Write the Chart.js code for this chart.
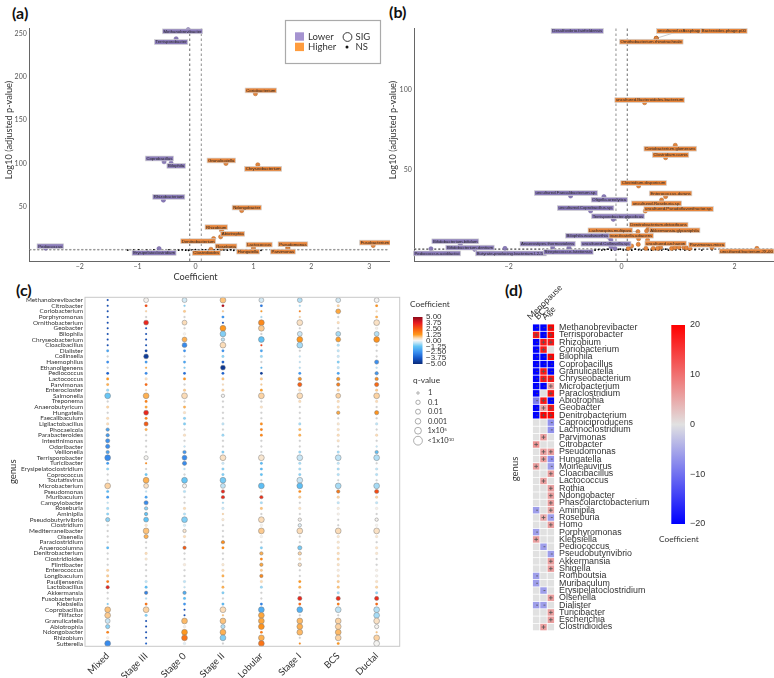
<!DOCTYPE html>
<html><head><meta charset="utf-8">
<script src="https://cdn.jsdelivr.net/npm/chart.js@4"></script>
<style>
html,body{margin:0;padding:0;background:#fff;width:774px;height:678px;overflow:hidden}
canvas{position:absolute}
.tag{position:absolute;font:bold 16px Lato,sans-serif;color:#111}
</style></head><body>
<div class="tag" style="left:12px;top:3px">(a)</div>
<div class="tag" style="left:389px;top:2px">(b)</div>
<div class="tag" style="left:16px;top:280px">(c)</div>
<div class="tag" style="left:505px;top:280px">(d)</div>
<canvas id="ca" width="390" height="285" style="left:0;top:0"></canvas>
<canvas id="cb" width="389" height="285" style="left:385px;top:0"></canvas>
<canvas id="cc" width="510" height="393" style="left:0;top:285px"></canvas>
<canvas id="cd" width="264" height="375" style="left:510px;top:270px"></canvas>
<script>
/* ---------- panel (a) ---------- */
const aNames=["Methanobrevibacter","Terrisporobacter","Coriobacterium","Coprobacillus","Bilophila","Granulicatella","Chryseobacterium","Rhizobacterium","Ndongobacter","Rhizobium","Abiotrophia","Denitrobacterium","Roseburia","Clostridioides","Lactococcus","Hungatella","Pseudomonas","Parvimonas","Fusobacterium","Pediococcus","Erysipelatoclostridium"];
const aCoef=[-.127,-.335,1.034,-.543,-.422,.525,1.075,-.555,.797,.45,.433,.312,.45,.266,1,1,1.594,1.594,3.067,-2.588,-.63];
const aLogP=[254.2,243.8,180.5,102.2,100.6,100.2,98.7,58,46,23,15.8,13.8,2.7,1.5,3.8,1.5,3.8,2.3,5.8,2.7,2.3];
const aSide=[0,0,1,0,0,1,1,0,1,1,1,1,1,1,1,1,1,1,1,0,0];
const aTagX=[-.225,-.422,1.127,-.624,-.335,.445,1.167,-.462,.884,.358,.641,.046,.526,.185,1.098,.907,1.681,1.508,3.097,-2.507,-.716];
const aTagY=[252.3,240,184.3,106,97.5,103.7,94.1,61.8,49.5,26.9,19.3,10.8,5,-2.7,6.9,-1.2,7.3,-1.2,9.2,5,-2.7];
const aNsX=[-1.17,-1.07,-.98,-.84,-.72,-.46,-.35,-.29,-.23,-.17,-.12,-.06,0,.06,.12,.17,.23,.32,.38,.43,.49,.55,.61,.66,.72,.78,.87,.95,1.04,1.13];
const aNsY=[.6,.4,.9,.5,.7,.8,.3,.6,.9,.5,.4,.8,1.1,.3,.7,.9,.5,.6,1.2,.4,.8,.5,.9,.3,.6,.7,.4,.5,.8,.3];
const aTicksX=[-2,-1,0,1,2,3], aTicksY=[50,100,150,200,250];

/* ---------- panel (b) ---------- */
const bNames=["uncultured.crAssphage","Bacteroides.phage.p00","Ornithobacterium.rhinotracheale","Desulfovibrio.fairfieldensis","uncultured.Bacteroidales.bacterium","Coriobacterium.glomerans","Clostridium.carnis","Clostridium.disporicum","Enterococcus.durans","uncultured.Roseburia.sp.","uncultured.Pseudoflavonifractor.sp.","uncultured.Faecalibacterium.sp.","Oligella.ureolytica","uncultured.Coprobacillus.sp.","Terrisporobacter.glycolicus","Denitrobacterium.detoxificans","Akkermansia.glycaniphila","Lachnospira.multipara","Granulicatella.adiacens","Bilophila.wadsworthia","Bifidobacterium.bifidum","Bifidobacterium.dentium","Anaerostipes.thermoviolens","uncultured.Collinsella.sp.","uncultured.archaeon","Parvimonas.micra","Pediococcus.acidilactici","Butyrate-producing.bacterium.L2-50","Streptococcus.lutetiensis","uncultured.bacterium.JX-00"];
const bCoef=[.614,.614,.614,-.785,.407,.95,.779,.301,.779,.708,.419,-.903,-.313,-.549,-.147,.472,.442,.289,.301,-.224,-2.855,-2.6,-1.221,-.189,.69,1.599,-3.375,-2.065,-.932,2.395];
const bLogP=[131.6,131.6,131.6,136.1,91.7,65.3,57.6,40.1,33.5,31.4,24.6,33.9,33.5,24.6,19.4,13.6,12.2,11.8,7.4,8.3,3.9,.8,2.3,2.5,2.1,1.9,1.2,1.4,1.9,1.4];
const bSide=[1,1,1,0,1,1,1,1,1,1,1,0,0,0,0,1,1,1,1,0,0,0,0,0,1,1,0,0,0,1];
const bTagX=[1.027,1.811,.525,-.785,.496,.861,.867,.389,.867,.619,1.009,-.985,-.218,-.637,-.065,.655,.938,-.201,.147,-.608,-2.944,-2.684,-1.31,-.277,.779,1.51,-3.268,-1.959,-.944,2.212];
const bTagY=[136.1,136.1,129.5,136.1,93.3,63.2,59.3,41.9,35.5,29.3,25.8,35.7,31.6,26.4,21.3,16.1,12.6,12.6,9.3,9.3,5.8,1.9,4.3,4.3,4.5,3.7,-1.7,-1.7,-.8,-.4];
const bExtraHighX=[.118,.177,.295,.46,.431,.56,.637,.885,.944,1.015,1.103,1.15,1.209];
const bExtraHighY=[1.4,2.9,3.9,6.6,1.4,1.4,1.4,1.4,1.9,2.1,2.1,1.7,1.4];
const bExtraLowX=[-.189,-.118], bExtraLowY=[6.6,1.4];
const bNsX=[-.53,-.47,-.41,-.35,-.3,-.24,-.18,-.12,-.06,-.02,.03,.08,.12,.18,.24,.3,.35,.41,.47,.53,.6,.66,.71,.78,.83,.9,.96,1.04,1.12,1.2,1.3,1.42,1.6];
const bNsY=[.5,.3,.7,.4,.6,.9,.3,.5,.8,1,.4,.6,.7,.3,.9,.5,.4,.8,.6,.3,.7,.5,.4,.9,.3,.6,.5,.7,.4,.3,.6,.4,.5];
const bTicksX=[-2,0,2], bTicksY=[50,100];

/* ---------- panel (c) ---------- */
const cGroups=["Mixed","Stage III","Stage 0","Stage II","Lobular","Stage I","BCS","Ductal"];
const cGenus=["Methanobrevibacter","Citrobacter","Coriobacterium","Porphyromonas","Ornithobacterium","Geobacter","Bilophila","Chryseobacterium","Cloacibacillus","Dialister","Collinsella","Haemophilus","Ethanoligenens","Pediococcus","Lactococcus","Parvimonas","Enterocloster","Salmonella","Treponema","Anaerobutyricum","Hungatella","Faecalibaculum","Ligilactobacillus","Phocaeicola","Parabacteroides","Intestinimonas","Odoribacter","Veillonella","Terrisporobacter","Turicibacter","Erysipelatoclostridium","Coprococcus","Toutatisvirus","Microbacterium","Pseudomonas","Muribaculum","Campylobacter","Roseburia","Aminipila","Pseudobutyrivibrio","Clostridium","Mediterraneibacter","Olsenella","Paraclostridium","Anaerocolumna","Denitrobacterium","Clostridioides","Flintibacter","Enterococcus","Longibaculum","Paulijensenia","Lactobacillus","Akkermansia","Fusobacterium","Klebsiella","Coprobacillus","Filifactor","Granulicatella","Abiotrophia","Ndongobacter","Rhizobium","Sutterella"];
const coefMixed=[-4,-4,-4,-4,-4,-4,-4,-4,-4,-2,-.3,-2.5,-.3,-3.5,1.3,1,-.8,-1.2,.3,.6,.2,.5,.5,-2,-2.2,-2.4,-2.5,-2,-2.6,-2.2,-.9,-.3,.3,.6,-1.5,-2.2,-.5,-.7,-.9,-.9,-.4,-.4,-.3,-.3,-1.5,-.3,-.3,.3,.6,.7,1.8,3.5,.4,-.3,-1,.8,.7,-.4,-.9,1.7,.1,-2.6];
const qMixed=[0,0,0,0,0,0,0,0,0,1,0,1,0,1,1,1,1,5,0,1,0,1,1,2,2,3,3,2,5,1,1,0,0,5,1,1,0,1,1,3,0,0,0,0,1,0,0,0,1,1,1,2,0,0,0,5,5,4,3,1,1,5];
const coefStage3=[.05,2.8,.6,.4,3.5,-3.8,-4,-4,-4,-4.2,-4.5,-2.2,1,-2.6,.4,2.2,.5,1,1.7,1.1,3.5,1.6,2.5,1,.2,.2,.2,.3,.03,1.5,.4,-1.2,1,.4,-.5,-2,-2.6,-.9,-1.3,-1.3,.3,.8,1,-.2,.2,.5,.3,-.2,.2,.2,-.5,-1.4,-2.8,-.6,2,.6,-1,-4,-4,-4,-4,-3.5];
const qStage3=[4,1,0,0,4,0,0,0,0,1,4,1,0,1,1,1,0,5,1,1,4,1,3,1,0,0,0,0,3,0,0,1,5,4,0,1,3,2,2,4,1,5,3,0,0,1,1,0,0,0,1,1,2,0,1,5,1,0,0,0,0,0];
const coefStage0=[-.3,-1,.7,.3,.5,.1,.05,1,-2.6,-2.4,-.3,-2,-1,-3.2,1.4,.3,.7,.5,.3,1,.4,-.9,-1,.3,.4,.3,-.5,-2.3,-2.6,-2.6,-.5,-.4,-1.2,.05,-.6,-.3,-.3,.5,-.6,-1,-.3,.3,.5,.3,2.5,.2,.4,.2,.3,-.2,-.5,-.5,-1.8,-1.4,-2.3,-4,-4,.9,.1,1.3,2,-.2];
const qStage0=[4,0,1,0,4,0,1,4,4,1,0,1,0,1,1,0,1,5,0,1,1,1,1,0,1,0,0,2,4,3,0,0,5,3,1,0,0,1,1,5,1,2,1,0,2,0,0,1,0,0,1,0,2,1,1,0,0,5,1,5,5,1];
const coefStage2=[.8,4.5,.7,-2.3,-4,1.3,-1,-.5,.5,-2.4,-.9,-3.5,-4.6,-3.5,.8,.5,.6,.02,.2,-.3,-.4,-.3,-.5,-.2,-.8,-.2,-.2,-1,.4,-.4,-.9,-1,-1.1,-.5,3.5,3.4,-.7,-.4,.6,.3,-.2,.2,.2,1.5,1.5,.2,.2,.3,.5,1,.2,1,-1,-.2,-1.5,.5,.8,.8,-.6,1,-1,-.2];
const qStage2=[5,1,0,1,0,5,5,2,5,1,1,1,4,1,1,0,1,2,0,0,0,0,1,0,1,0,0,1,5,1,1,1,5,4,2,2,0,1,0,1,0,0,0,2,1,0,0,1,1,1,0,1,1,0,1,5,0,5,3,5,5,0];
const coefLobular=[-.3,-3,1.2,-.7,1.6,.7,.03,-1.3,3,-2,-.8,-.3,-1.5,-4.5,.7,.7,1.2,.6,.4,.4,.3,.2,1.5,1.7,1.6,-.3,-.2,.2,.3,-1.5,-1.5,-1.3,-.3,-1.4,.5,3.3,-.7,.8,.3,.5,.05,.7,.05,-.1,-1,1,1.6,1.1,.7,1.6,.5,-.8,-.2,-.2,-2.8,-1.8,1.1,1.1,1.4,1.8,1,2];
const qLobular=[4,1,0,0,5,5,0,5,0,1,1,0,0,1,1,0,1,5,0,1,0,0,1,1,1,0,0,0,5,1,1,1,0,5,0,2,1,1,0,5,1,5,1,0,1,2,1,2,1,2,1,1,0,0,1,5,5,5,5,1,5,5];
const coefStage1=[-.6,-.7,1.7,.6,.4,-.2,-.4,1.3,-.7,-.3,-.5,-.5,-.6,-2.3,1.4,2.4,.4,.5,.5,.4,.2,-.4,-.7,.9,1,.3,.2,-.8,-.4,-.7,-.7,-.9,-.4,-1.4,1.5,.7,-.3,.4,-.2,.1,-.2,.5,.1,-.1,-1.1,.6,.5,.4,-.1,.2,1.3,1,-.2,3.5,2.2,-1.7,-.2,.9,1,.9,-.2,1.5];
const qStage1=[4,0,0,0,5,0,4,5,5,0,0,0,0,1,2,3,1,5,1,0,0,0,1,1,1,0,0,1,5,1,1,1,5,5,1,1,0,1,0,2,2,5,0,0,3,2,1,2,0,0,1,1,0,3,1,5,0,5,5,5,0,0];
const coefBCS=[-.3,.6,1.1,.4,.5,.2,-.7,1.2,-.6,-.5,-.4,-1,-.5,-2,1.3,1.8,.6,.6,.5,.5,1.1,.2,.3,.4,.5,.4,-.3,-.7,-.5,-.5,-.7,-.6,-.2,-.7,1.9,.6,-.5,.2,.1,.1,-.1,.5,.3,.3,.4,.5,.6,.4,.2,.4,.7,.8,-.7,3.4,1.8,-.5,-.1,.6,.6,.9,.6,1.3];
const qBCS=[4,1,4,0,1,0,4,4,1,1,1,1,1,1,2,2,1,4,1,1,2,0,1,1,1,1,0,1,5,1,1,1,0,5,2,1,1,1,1,0,0,5,1,1,1,1,1,1,1,1,1,1,1,3,1,5,0,5,5,5,5,1];
const coefDuctal=[.02,1.4,.5,1,.4,.1,-.6,1.4,-.2,.4,-.3,-2.5,-.5,-2.3,1.5,2.2,.7,.6,.5,.2,1.4,.1,-.5,.1,.5,-.1,-.5,-1.4,-.6,-.3,-.5,-.6,-.2,-.7,2.8,.6,-.5,.1,.1,.05,.05,.4,.3,.2,.4,.3,.1,.1,.1,.1,.4,.6,-.9,3.4,2.2,-.6,-.7,.4,.05,.8,.6,.03];
const qDuctal=[4,1,0,1,5,1,4,5,0,0,0,3,0,2,2,3,1,5,1,0,3,0,1,0,1,0,0,2,5,0,1,1,0,5,3,1,1,1,0,2,1,5,1,0,1,1,0,0,1,1,1,1,1,3,1,5,5,5,3,0,5,5];
const cQLabels=["1","0.1","0.01","0.001"];
const cBarTicks=["5.00","3.75","2.50","1.25","0.00","\u22121.25","\u22122.50","\u22123.75","\u22125.00"];

/* ---------- panel (d) ---------- */
const dFactors=["Menopause","BCS","Age"];
const dGenus=["Methanobrevibacter","Terrisporobacter","Rhizobium","Coriobacterium","Bilophila","Coprobacillus","Granulicatella","Chryseobacterium","Microbacterium","Paraclostridium","Abiotrophia","Geobacter","Denitrobacterium","Caproiciproducens","Lachnoclostridium","Parvimonas","Citrobacter","Pseudomonas","Hungatella","Moineauvirus","Cloacibacillus","Lactococcus","Rothia","Ndongobacter","Phascolarctobacterium","Aminipila","Roseburia","Homo","Porphyromonas","Klebsiella","Pediococcus","Pseudobutyrivibrio","Akkermansia","Shigella","Romboutsia","Muribaculum","Erysipelatoclostridium","Olsenella","Dialister","Turicibacter","Escherichia","Clostridioides"];
const dMenopause=[-20,18,-20,-20,-20,-20,-20,-20,-20,-20,-9,-20,-20,0,0,0,7,0,0,6,0,0,0,0,0,-6,0,0,-6,6,0,0,0,0,-6,-6,0,0,-6,0,0,0];
const dBCS=[-20,-20,18,18,-20,-20,18,18,-20,0,18,6,20,0,0,6,0,6,6,0,0,6,0,0,0,0,5,0,0,0,-6,0,0,0,0,0,-6,0,-6,0,0,6];
const dAge=[20,20,18,0,20,-20,-20,18,6,18,-20,18,20,-7,-7,0,0,6,-7,-6,6,0,6,6,6,5,-6,6,0,0,0,-6,6,6,0,0,0,6,0,6,6,0];
const dBarTicks=[20,10,0,-10,-20];

/* ---------- helpers ---------- */
Chart.defaults.animation=false;
Chart.defaults.responsive=false;
Chart.defaults.devicePixelRatio=1;
Chart.defaults.events=[];
Chart.defaults.plugins.legend.display=false;
Chart.defaults.plugins.tooltip.enabled=false;
const LOW='#8a7bb9',HIGH='#e8853a',FONT='Lato,sans-serif';
const zip=(xs,ys)=>xs.map((x,i)=>({x,y:ys[i]}));
const minus=v=>String(v).replace('-','\u2212');
const txt=(ctx,s,x,y,font,color,align='left',base='middle')=>{ctx.font=font;ctx.fillStyle=color;ctx.textAlign=align;ctx.textBaseline=base;ctx.fillText(s,x,y)};

function volcano(id,d){
  const tagPlugin={id:'tags',afterDatasetsDraw(ch){
    const {ctx,scales:{x,y}}=ch;ctx.save();
    d.names.forEach((n,i)=>{
      if(n===d.hide)return;
      const tx=x.getPixelForValue(d.tagX[i]),ty=y.getPixelForValue(d.tagY[i]);
      const px=x.getPixelForValue(d.coef[i]),py=y.getPixelForValue(d.logp[i]);
      if(Math.hypot(px-tx,py-ty)>50)return;
      ctx.strokeStyle='#777';ctx.lineWidth=.4;ctx.beginPath();ctx.moveTo(px,py);ctx.lineTo(tx,ty);ctx.stroke();
    });
    d.names.forEach((n,i)=>{
      const tx=x.getPixelForValue(d.tagX[i]),ty=y.getPixelForValue(d.tagY[i]);
      ctx.font='4.3px "Liberation Sans"';
      const w=ctx.measureText(n).width+2.2;
      ctx.fillStyle=d.side[i]?HIGH:LOW;ctx.strokeStyle='#d4d4d4';ctx.lineWidth=.7;
      ctx.fillRect(tx-w/2,ty-2.4,w,4.8);ctx.strokeRect(tx-w/2,ty-2.4,w,4.8);
      txt(ctx,n,tx,ty+.2,'4.3px "Liberation Sans"','#2b2b2b','center');
    });
    if(d.xTitle)txt(ctx,d.xTitle,x.getPixelForValue(0),276.7,'9.2px '+FONT,'#333','center');
    ctx.save();ctx.translate(d.titleX,130);ctx.rotate(-Math.PI/2);
    txt(ctx,'Log10 (adjusted p-value)',0,0,'9.2px '+FONT,'#333','center');ctx.restore();
    if(d.legend){
      ctx.strokeStyle='#aaa';ctx.lineWidth=1.2;ctx.strokeRect(285.5,20.5,95,43);
      ctx.fillStyle='#a593d0';ctx.fillRect(295,32.3,9,8.4);
      ctx.fillStyle='#ff9c3e';ctx.fillRect(295,42.7,9,8.4);
      const f='9.5px '+FONT;
      txt(ctx,'Lower',308,37,f,'#333');txt(ctx,'Higher',308,47,f,'#333');
      txt(ctx,'SIG',355.5,37,f,'#333');txt(ctx,'NS',355.5,47,f,'#333');
      ctx.strokeStyle='#222';ctx.lineWidth=.9;ctx.beginPath();ctx.arc(347.5,37,4.4,0,7);ctx.stroke();
      ctx.fillStyle='#111';ctx.beginPath();ctx.arc(347,47,1.5,0,7);ctx.fill();
    }
    ctx.restore();
  }};
  const pts=(side,extra)=>d.coef.map((c,i)=>({x:c,y:d.logp[i],s:d.side[i],n:d.names[i]})).filter(p=>p.s===side&&p.n!==d.hide).map(p=>({x:p.x,y:p.y})).concat(extra||[]);
  const line=(data,color,w,dash)=>({data,showLine:true,pointRadius:0,borderColor:color,borderWidth:w,borderDash:dash,clip:false,order:2});
  new Chart(document.getElementById(id),{type:'scatter',plugins:[tagPlugin],data:{datasets:[
    {data:pts(0,d.extraLow),pointRadius:2.1,backgroundColor:LOW,borderColor:'#6a5c98',borderWidth:.5,clip:false,order:0},
    {data:pts(1,d.extraHigh),pointRadius:2.1,backgroundColor:HIGH,borderColor:'#a9622b',borderWidth:.5,clip:false,order:0},
    {data:zip(d.nsX,d.nsY),pointRadius:.9,backgroundColor:'#000',borderWidth:0,clip:false,order:1},
    line([{x:d.xMin,y:1.3},{x:d.xMax,y:1.3}],'#999',1,[2,2]),
    line([{x:d.xMin,y:.8},{x:d.xMax,y:.8}],'#333',.7,[2,2]),
    line([{x:-.1,y:d.yMin},{x:-.1,y:d.yMax}],d.leftDark?'#444':'#999',d.leftDark?.8:1.1,[2.5,2.5]),
    line([{x:.1,y:d.yMin},{x:.1,y:d.yMax}],d.leftDark?'#999':'#444',d.leftDark?1.1:.8,[2.5,2.5])
  ]},options:{layout:{autoPadding:false,padding:{top:28.3,right:d.right,left:0,bottom:0}},scales:{
    x:{type:'linear',min:d.xMin,max:d.xMax,
       afterBuildTicks:s=>{s.ticks=d.ticksX.map(v=>({value:v}))},
       afterFit:s=>{s.height=24},
       grid:{display:false,drawTicks:false},border:{color:'#666',width:1},
       ticks:{color:'#555',font:{size:7,family:FONT},padding:2,maxRotation:0,callback:v=>minus(v)}},
    y:{type:'linear',min:d.yMin,max:d.yMax,
       afterBuildTicks:s=>{s.ticks=d.ticksY.map(v=>({value:v}))},
       afterFit:s=>{s.width=29.3},
       grid:{display:false,drawTicks:false},border:{color:'#666',width:1},
       ticks:{color:'#555',font:{size:7,family:FONT},padding:2.5}}
  }}});
}
volcano('ca',{names:aNames,coef:aCoef,logp:aLogP,side:aSide,tagX:aTagX,tagY:aTagY,nsX:aNsX,nsY:aNsY,ticksX:aTicksX,ticksY:aTicksY,xMin:-2.87,xMax:3.34,yMin:-12,yMax:255.8,right:1,leftDark:true,legend:true,xTitle:'Coefficient',titleX:9});
volcano('cb',{names:bNames,coef:bCoef,logp:bLogP,side:bSide,tagX:bTagX,tagY:bTagY,nsX:bNsX,nsY:bNsY,ticksX:bTicksX,ticksY:bTicksY,xMin:-3.67,xMax:2.68,yMin:-6.4,yMax:137.8,right:1,leftDark:false,extraHigh:zip(bExtraHighX,bExtraHighY),extraLow:zip(bExtraLowX,bExtraLowY),hide:'Desulfovibrio.fairfieldensis',xTitle:'',titleX:8});

/* panel c */
const STOPS=[[-5,[10,42,120]],[-3.75,[21,87,200]],[-2.5,[58,143,240]],[-1.25,[98,196,245]],[-.5,[191,227,245]],[0,[244,244,244]],[.5,[251,220,184]],[1.25,[255,154,30]],[2.5,[248,90,16]],[3.75,[232,26,32]],[5,[140,10,26]]];
const cmap=v=>{v=Math.max(-5,Math.min(5,v));for(let i=1;i<STOPS.length;i++){if(v<=STOPS[i][0]){const [a,ca]=STOPS[i-1],[b,cb]=STOPS[i],t=(v-a)/(b-a);return 'rgb('+ca.map((c,k)=>Math.round(c+(cb[k]-c)*t)).join(',')+')'}}return 'rgb(140,10,26)'};
const RAD=[1,1.35,1.7,2.1,2.45,2.9];
const cCols=[[coefMixed,qMixed],[coefStage3,qStage3],[coefStage0,qStage0],[coefStage2,qStage2],[coefLobular,qLobular],[coefStage1,qStage1],[coefBCS,qBCS],[coefDuctal,qDuctal]];
const cLegend={id:'clegend',afterDatasetsDraw(ch){
  const {ctx,chartArea:A}=ch;ctx.save();
  ctx.strokeStyle='#c8c8c8';ctx.lineWidth=1;ctx.strokeRect(A.left,A.top,A.right-A.left,A.bottom-A.top);
  txt(ctx,'Coefficient',410,19.5,'8.3px '+FONT,'#333');
  const top=32,bot=79;const g=ctx.createLinearGradient(0,top,0,bot);
  STOPS.forEach(([v,c])=>g.addColorStop((5-v)/10,'rgb('+c.join(',')+')'));
  ctx.fillStyle=g;ctx.fillRect(413,top,9.5,bot-top);
  cBarTicks.forEach((t,i)=>txt(ctx,t,426,top+i*(bot-top)/8,'8px "Liberation Sans"','#333'));
  txt(ctx,'q-value',413,95.5,'8.3px '+FONT,'#333');
  const ys=[108,117.3,126.7,136.3,145.7,155.7],rs=[1.2,2.2,2.5,2.8,3.4,4.4];
  ys.forEach((y,i)=>{ctx.strokeStyle='#777';ctx.lineWidth=.6;ctx.beginPath();ctx.arc(418,y,rs[i],0,7);ctx.stroke()});
  cQLabels.forEach((t,i)=>txt(ctx,t,428,ys[i],'7.5px '+FONT,'#333'));
  txt(ctx,'1x10',427.5,ys[4],'7.5px '+FONT,'#333');
  txt(ctx,'-5',442.5,ys[4]-1.5,'4.5px '+FONT,'#333');
  txt(ctx,'<1x10',427.5,ys[5],'7.5px '+FONT,'#333');
  txt(ctx,'-10',447,ys[5]-1.5,'4.5px '+FONT,'#333');
  ctx.restore();
}};
new Chart(document.getElementById('cc'),{type:'bubble',plugins:[cLegend],data:{labels:cGenus,datasets:cCols.map(([co,q],k)=>({
  data:co.map((c,i)=>({x:k,y:cGenus[i],r:RAD[q[i]]})),
  backgroundColor:co.map((c,i)=>Math.abs(c)<.45&&q[i]===0?'#d4d4d4':cmap(c)),
  borderColor:co.map((c,i)=>q[i]>=2?'rgba(125,125,125,.8)':'rgba(150,150,150,.35)'),
  borderWidth:co.map((c,i)=>q[i]>=2?.6:.3),clip:false}))},
  options:{layout:{autoPadding:false,padding:{top:12.3,right:110.3,left:0,bottom:0}},scales:{
    x:{type:'linear',min:-.59,max:7.6,
       afterBuildTicks:s=>{s.ticks=cGroups.map((g,i)=>({value:i}))},
       afterFit:s=>{s.height=31.7},
       grid:{display:false,drawTicks:false},border:{display:false},
       ticks:{color:'#333',font:{size:9.5,family:FONT},padding:4,minRotation:45,maxRotation:45,autoSkip:false,callback:v=>cGroups[v]}},
    y:{type:'category',labels:cGenus,offset:true,
       afterFit:s=>{s.width=85},
       grid:{display:false,drawTicks:false},border:{display:false},
       ticks:{color:'#333',font:{size:6.4,family:FONT},padding:2,autoSkip:false},
       title:{display:true,text:'genus',color:'#333',font:{size:9.5,family:FONT},padding:{top:7,bottom:0}}}
  }}});

/* panel d */
const hcol=v=>{const t=Math.min(1,Math.abs(v)/20),b=[225,225,225],e=v<0?[0,0,255]:[255,0,0];return 'rgb('+b.map((c,i)=>Math.round(c+(e[i]-c)*t)).join(',')+')'};
const dCols=[dMenopause,dBCS,dAge];
const dOverlay={id:'doverlay',afterDatasetsDraw(ch){
  const {ctx}=ch;ctx.save();
  ctx.translate(5,199);ctx.rotate(-Math.PI/2);txt(ctx,'genus',0,0,'9.5px '+FONT,'#333','center');ctx.restore();ctx.save();
  const top=55,bot=254,L=161.3,W=13.7;
  const g=ctx.createLinearGradient(0,top,0,bot);
  g.addColorStop(0,'rgb(255,0,0)');g.addColorStop(.5,'rgb(225,225,225)');g.addColorStop(1,'rgb(0,0,255)');
  ctx.fillStyle=g;ctx.fillRect(L,top,W,bot-top);
  dBarTicks.forEach(t=>{txt(ctx,minus(t),180,top+(20-t)/40*(bot-top),'9px "Liberation Sans"','#333')});
  txt(ctx,'Coefficient',149,269,'8.3px '+FONT,'#333');
  ctx.restore();
}};
const dCells=[];dCols.forEach((c,k)=>c.forEach((v,i)=>dCells.push({x:dFactors[k],y:dGenus[i],v})));
new Chart(document.getElementById('cd'),{type:'scatter',plugins:[dOverlay],data:{labels:dGenus,datasets:[
  {data:dCells.map(c=>({x:c.x,y:c.y})),pointStyle:'rect',pointRadius:4.6,borderWidth:0,backgroundColor:dCells.map(c=>hcol(c.v)),clip:false,order:2},
  {data:dCells.filter(c=>c.v>0).map(c=>({x:c.x,y:c.y})),pointStyle:'cross',pointRadius:1.9,borderColor:'#555',borderWidth:.8,clip:false,order:1},
  {data:dCells.filter(c=>c.v<0).map(c=>({x:c.x,y:c.y})),pointStyle:'dash',pointRadius:1.9,borderColor:'#555',borderWidth:.8,clip:false,order:1}
]},options:{layout:{autoPadding:false,padding:{left:22.5,top:0,right:0,bottom:14.3}},scales:{
  x:{type:'category',labels:dFactors,position:'top',offset:true,
     afterFit:s=>{s.height=54},
     grid:{display:false,drawTicks:false},border:{display:false},
     ticks:{color:'#333',font:{size:8.8,family:FONT},padding:2,minRotation:45,maxRotation:45,autoSkip:false}},
  y:{type:'category',labels:dGenus,position:'right',offset:true,
     afterFit:s=>{s.width=219.5},
     grid:{display:false,drawTicks:false},border:{display:false},
     ticks:{color:'#333',font:{size:8.9,family:'"Liberation Sans"'},padding:4.5,autoSkip:false}}
}}});
</script>
</body></html>
